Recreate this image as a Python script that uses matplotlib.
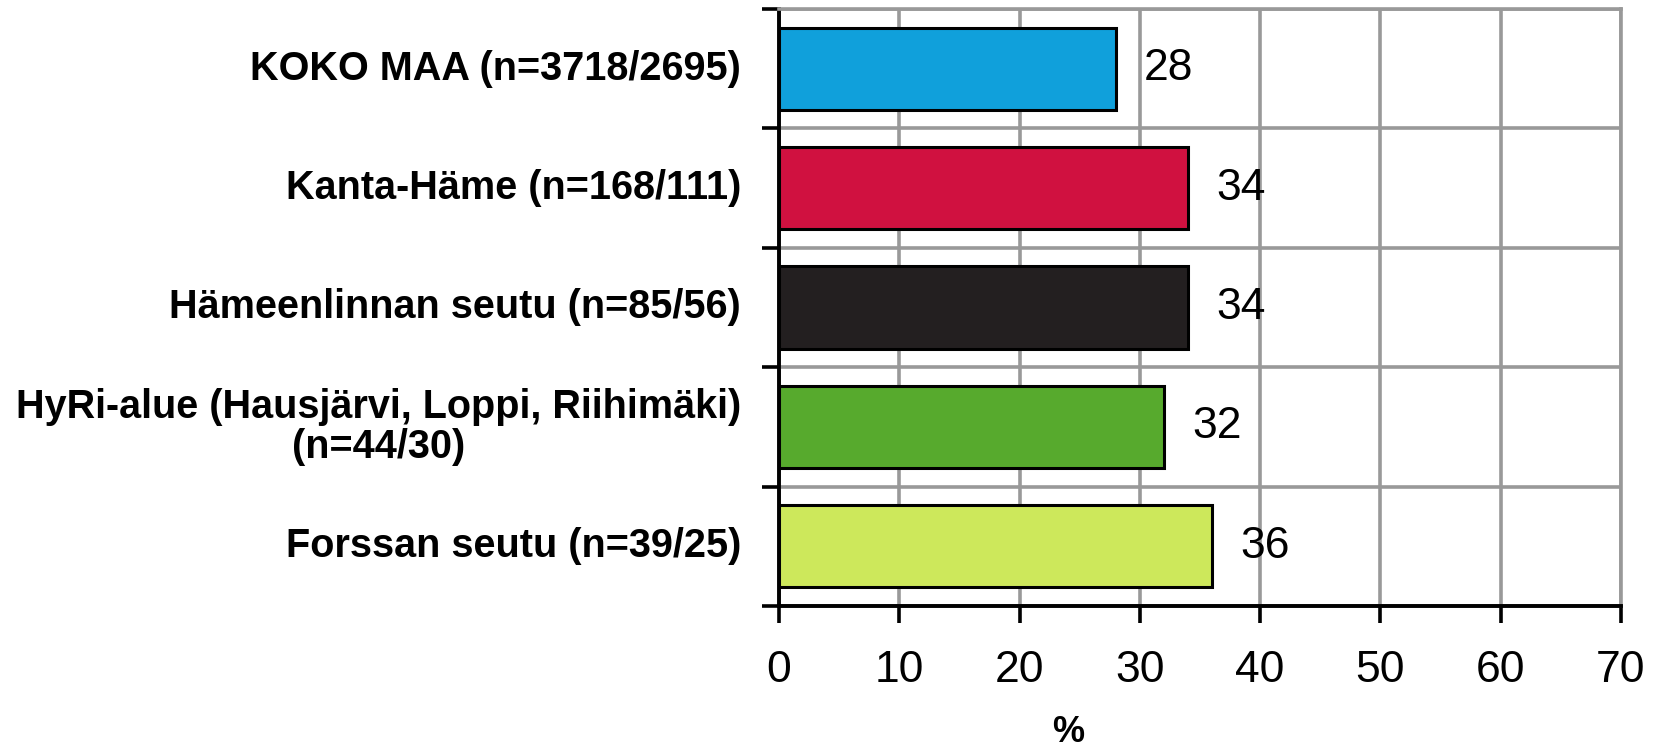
import matplotlib.pyplot as plt
import numpy as np

# ── DATA ──────────────────────────────────────────────────────────────────────
categories = [
    "KOKO MAA (n=3718/2695)",
    "Kanta-Häme (n=168/111)",
    "Hämeenlinnan seutu (n=85/56)",
    "HyRi-alue (Hausjärvi, Loppi, Riihimäki)\n(n=44/30)",
    "Forssan seutu (n=39/25)",
]
values = [28, 34, 34, 32, 36]
colours = ["#10A0DB", "#D01140", "#231F20", "#57AA2D", "#CDE85B"]
x_ticks = [0, 10, 20, 30, 40, 50, 60, 70]

W, H = 1663, 751
fig = plt.figure(figsize=(W / 100, H / 100), dpi=100)
ax = fig.add_axes([779 / W, 1 - 606 / H, (1621 - 779) / W, (606 - 9) / H])

y = np.arange(len(categories))
ax.barh(y, values, height=0.69, color=colours, edgecolor="black", linewidth=2.2, zorder=3)

ax.set_xlim(0, 70)
ax.set_ylim(len(categories) - 0.5, -0.5)

# grid: vertical at ticks, horizontal at category boundaries
ax.set_xticks(x_ticks)
ax.set_xticklabels([str(t) for t in x_ticks], fontsize=32, fontname="Liberation Sans")
ax.set_yticks(np.arange(len(categories) + 1) - 0.5)
ax.set_yticklabels([])
ax.grid(True, color="#999999", linewidth=2.6, zorder=0)
ax.tick_params(axis="both", length=12, width=2.6, color="black")
ax.tick_params(axis="x", pad=20)

for s in ["left", "bottom"]:
    ax.spines[s].set_linewidth(2.8)
    ax.spines[s].set_color("black")
for s in ["top", "right"]:
    ax.spines[s].set_linewidth(2.6)
    ax.spines[s].set_color("#999999")

# category labels
for i, lab in enumerate(categories):
    ax.text(-38 / 12.03, i, lab, ha="right", va="center", multialignment="center",
            fontsize=28.5, fontweight="bold", fontname="Liberation Sans",
            linespacing=1.08)

# value labels
for i, v in enumerate(values):
    ax.text(v + 28 / 12.03, i, str(v), ha="left", va="center", fontsize=32,
            fontname="Liberation Sans")

fig.text(1068 / W, 1 - 733 / H, "%", ha="center", va="center", fontsize=26,
         fontweight="bold", fontname="Liberation Sans")

plt.savefig("out.png", dpi=100)
